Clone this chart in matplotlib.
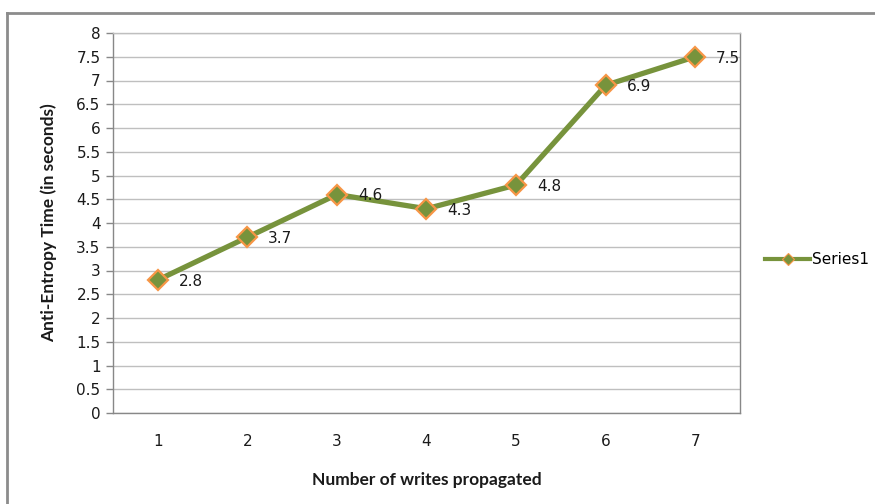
import matplotlib
matplotlib.use("Agg")
import matplotlib.pyplot as plt
from matplotlib.lines import Line2D

writes = [1, 2, 3, 4, 5, 6, 7]
times = [2.8, 3.7, 4.6, 4.3, 4.8, 6.9, 7.5]
y_ticks = [0, 0.5, 1, 1.5, 2, 2.5, 3, 3.5, 4, 4.5, 5, 5.5, 6, 6.5, 7, 7.5, 8]

line_color = "#77933C"
edge_color = "#F79646"
grid_color = "#BFBFBF"
axis_color = "#888888"
text_color = "#1A1A1A"

plt.rcParams["font.family"] = ["DejaVu Sans"]

fig = plt.figure(figsize=(8.75, 5.04), dpi=100)
ax = fig.add_axes([113 / 875, 1 - 413 / 504, (740 - 113) / 875, (413 - 33) / 504])

ax.plot(writes, times, color=line_color, linewidth=3.8, marker="D", markersize=10,
        markerfacecolor=line_color, markeredgecolor=edge_color, markeredgewidth=1.6,
        solid_joinstyle="round", zorder=3, clip_on=False)

for x, y in zip(writes, times):
    ax.annotate(f"{y:g}", (x, y), xytext=(15, -1), textcoords="offset points",
                ha="left", va="center", fontsize=11, color=text_color, zorder=4)

ax.set_xlim(0.5, 7.5)
ax.set_ylim(0, 8)
ax.set_xticks(writes)
ax.set_yticks(y_ticks)
ax.set_yticklabels([f"{v:g}" for v in y_ticks])
ax.tick_params(axis="x", length=0, pad=15, labelsize=11, labelcolor=text_color)
ax.tick_params(axis="y", length=5, width=1, color=axis_color, pad=4,
               labelsize=11, labelcolor=text_color)
ax.yaxis.grid(True, color=grid_color, linewidth=1)
ax.set_axisbelow(True)
for side in ["left", "right", "bottom", "top"]:
    ax.spines[side].set_color(axis_color)
    ax.spines[side].set_linewidth(1)
ax.spines["top"].set_color(grid_color)

ax.set_xlabel("Number of writes propagated", fontfamily="Lato", fontweight="bold",
              fontsize=12.5, color=text_color, labelpad=17)
ax.set_ylabel("Anti-Entropy Time (in seconds)", fontfamily="Lato", fontweight="bold",
              fontsize=12.5, color=text_color, labelpad=14)

handle = Line2D([], [], color=line_color, linewidth=3, marker="D", markersize=6,
                markerfacecolor=line_color, markeredgecolor=edge_color, markeredgewidth=0.8)
fig.legend([handle], ["Series1"], loc="center left", bbox_to_anchor=(757 / 875, 1 - 260 / 504),
           frameon=False, fontsize=11, handlelength=3, handletextpad=0.1, borderpad=0)

# chart frame (left and top edges)
fig.add_artist(Line2D([7 / 875, 7 / 875], [0, 1 - 13 / 504], color="#8C8C8C", linewidth=2))
fig.add_artist(Line2D([7 / 875, 1], [1 - 13 / 504, 1 - 13 / 504], color="#8C8C8C", linewidth=2))

fig.savefig("out.png", dpi=100)
